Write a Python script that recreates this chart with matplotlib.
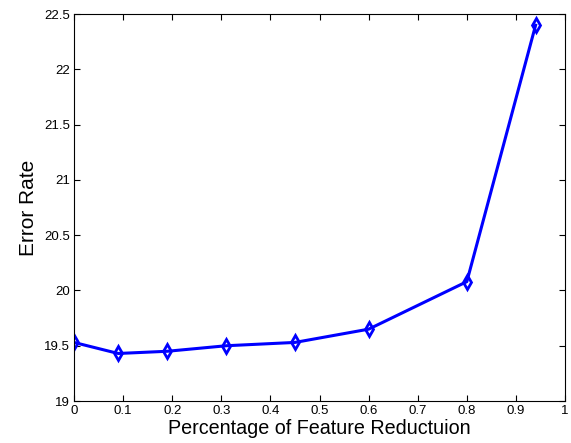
import matplotlib
matplotlib.use("Agg")
import matplotlib.pyplot as plt

plt.rcParams['font.family'] = ['Liberation Sans', 'DejaVu Sans']

reduction = [0, 0.09, 0.19, 0.31, 0.45, 0.6, 0.8, 0.94]
error_rate = [19.53, 19.43, 19.45, 19.50, 19.53, 19.65, 20.08, 22.40]
x_ticks = [0, 0.1, 0.2, 0.3, 0.4, 0.5, 0.6, 0.7, 0.8, 0.9, 1]
y_ticks = [19, 19.5, 20, 20.5, 21, 21.5, 22, 22.5]

fig = plt.figure(figsize=(5.71, 4.43), dpi=100)
ax = fig.add_axes([0.1296, 0.0948, 0.86, 0.8732])

ax.plot(reduction, error_rate, color='blue', linewidth=2.2, marker='d',
        markersize=7.5, markerfacecolor='none', markeredgewidth=2)

ax.set_xlim(0, 1)
ax.set_ylim(19, 22.5)
ax.set_xticks(x_ticks)
ax.set_xticklabels([f"{t:g}" for t in x_ticks])
ax.set_yticks(y_ticks)
ax.set_yticklabels([f"{t:g}" for t in y_ticks])
ax.tick_params(direction='in', top=True, right=True, labelsize=9.5, length=4, pad=3)

ax.set_xlabel("Percentage of Feature Reductuion", fontsize=14.2, labelpad=1)
ax.set_ylabel("Error Rate", fontsize=15, labelpad=4)

plt.savefig("out.png", dpi=100)
plt.close()
